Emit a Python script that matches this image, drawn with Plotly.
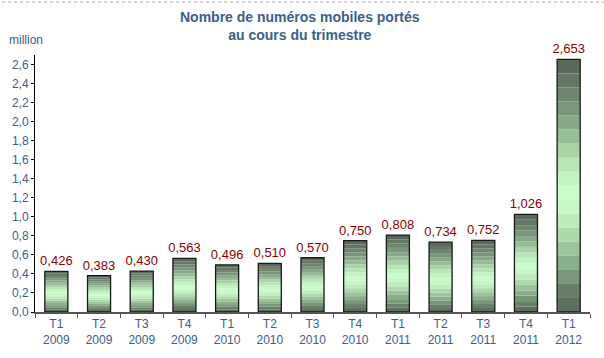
import plotly.graph_objects as go

quarters = ["T1<br>2009", "T2<br>2009", "T3<br>2009", "T4<br>2009",
            "T1<br>2010", "T2<br>2010", "T3<br>2010", "T4<br>2010",
            "T1<br>2011", "T2<br>2011", "T3<br>2011", "T4<br>2011",
            "T1<br>2012"]
ported = [0.426, 0.383, 0.430, 0.563, 0.496, 0.510, 0.570, 0.750,
          0.808, 0.734, 0.752, 1.026, 2.653]
labels = [f"{v:.3f}".replace(".", ",") for v in ported]

blue = "#3B5E8C"
red = "#8B0000"
BW = 0.54

fig = go.Figure()
# gradient simulation: colour bands inside each bar (fractions of bar height, bottom->top)
band_colors = ["#5d6f5d", "#687f68", "#789678", "#8aae8a", "#9cc49c", "#addaad",
               "#bcecbc", "#c5f8c5", "#c8fcc8", "#c2f4c2", "#b6e6b6", "#a7d3a7",
               "#97bd97", "#87a887", "#7a967a", "#6e856e", "#647664", "#5a6a5a"]
n = len(band_colors)
for i, col in enumerate(band_colors):
    lo, hi = i / n, (i + 1) / n
    fig.add_bar(x=quarters, y=[v * (hi - lo) for v in ported],
                base=[v * lo for v in ported],
                marker=dict(color=col, line=dict(width=0)),
                width=BW, hoverinfo="skip", showlegend=False)
# outline + labels
fig.add_bar(x=quarters, y=ported, text=labels, textposition="outside",
            constraintext="none",
            textfont=dict(color=red, size=13, family="Arial"),
            cliponaxis=False,
            marker=dict(color="rgba(0,0,0,0)", line=dict(color="#1a1a1a", width=1.3)),
            width=BW, showlegend=False)

fig.update_layout(
    width=604, height=358, barmode="overlay",
    separators=", ",
    paper_bgcolor="white", plot_bgcolor="white",
    margin=dict(l=35, r=14, t=55, b=46, autoexpand=False),
    font=dict(family="Arial", color=blue, size=12),
    annotations=[
        dict(text="<b>Nombre de numéros mobiles portés<br>au cours du trimestre</b>",
             xref="paper", yref="paper", x=0.477, y=1.111, xanchor="center",
             yanchor="middle", showarrow=False,
             font=dict(size=14, color=blue, family="Arial")),
        dict(text="million", xref="paper", yref="paper", x=-0.05, y=1.058,
             xanchor="left", yanchor="middle", showarrow=False,
             font=dict(size=12, color=blue, family="Arial")),
    ],
)
fig.update_xaxes(type="category", tickson="boundaries", ticks="outside", ticklen=4,
                 tickcolor="#555", showline=True, linecolor="#555", linewidth=1.5,
                 tickfont=dict(size=12, color=blue), showgrid=False)
fig.update_yaxes(range=[0, 2.7], dtick=0.2, tickformat=".1f", ticks="outside",
                 ticklen=3, tickcolor="black", showline=True, linecolor="black",
                 linewidth=1, showgrid=False, zeroline=False,
                 tickfont=dict(size=12, color=blue))
fig.add_shape(type="line", xref="paper", yref="paper", x0=-0.07, x1=1.03, y0=1.206, y1=1.206,
              line=dict(color="#aaa", width=1, dash="dot"))
fig.write_html("out.html", config={"displayModeBar": False},
               post_script="document.body.style.margin='0';document.body.style.overflow='hidden';")
